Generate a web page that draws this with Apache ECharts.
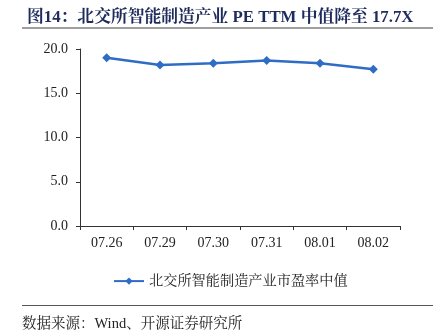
<!DOCTYPE html>
<html>
<head>
<meta charset="utf-8">
<script src="https://cdn.jsdelivr.net/npm/echarts@6/dist/echarts.min.js"></script>
<style>
  html, body { margin: 0; padding: 0; background: #fff; }
  #chart { width: 445px; height: 334px; }
</style>
</head>
<body>
<div id="chart"></div>
<script>
// Trading dates and the median PE TTM of the BSE smart-manufacturing sector
const dates = ['07.26', '07.29', '07.30', '07.31', '08.01', '08.02'];
const peMedian = [19.0, 18.2, 18.4, 18.7, 18.4, 17.7];
const seriesName = '北交所智能制造产业市盈率中值';
const titleText = '图14：北交所智能制造产业 PE TTM 中值降至 17.7X';
const sourceText = '数据来源：Wind、开源证券研究所';

const serif = '"Liberation Serif", "Times New Roman", "Noto Serif CJK SC", "Noto Sans CJK SC", serif';
const lineColor = '#2F6DC4';

const chart = echarts.init(document.getElementById('chart'), null, { renderer: 'canvas' });

chart.setOption({
  animation: false,
  backgroundColor: '#ffffff',
  title: {
    text: titleText,
    left: 22,
    top: 4,
    textStyle: {
      fontFamily: serif,
      fontSize: 16.8,
      fontWeight: 'bold',
      color: '#1E2B5C'
    }
  },
  graphic: [
    { type: 'line', shape: { x1: 22, y1: 28, x2: 433, y2: 28 }, style: { stroke: '#7f7f7f', lineWidth: 1.5 } },
    { type: 'line', shape: { x1: 22, y1: 305.5, x2: 433, y2: 305.5 }, style: { stroke: '#555555', lineWidth: 1 } },
    {
      type: 'text', left: 22, top: 317,
      style: { text: sourceText, font: '14.5px ' + serif, fill: '#222222' }
    }
  ],
  legend: {
    data: [seriesName],
    left: 108,
    top: 269,
    itemWidth: 30,
    itemHeight: 9,
    itemGap: 5,
    textStyle: { fontFamily: serif, fontSize: 14.2, color: '#222222' }
  },
  grid: { left: 80, right: 45, top: 49, bottom: 108 },
  xAxis: {
    type: 'category',
    data: dates,
    boundaryGap: true,
    axisLine: { lineStyle: { color: '#333333', width: 1 } },
    axisTick: { show: true, length: 4, inside: false, alignWithLabel: false, lineStyle: { color: '#333333' } },
    axisLabel: { fontFamily: serif, fontSize: 14, color: '#222222', margin: 10 }
  },
  yAxis: {
    type: 'value',
    min: 0,
    max: 20,
    interval: 5,
    splitLine: { show: false },
    axisLine: { show: true, lineStyle: { color: '#333333', width: 1 } },
    axisTick: { show: true, length: 4, lineStyle: { color: '#333333' } },
    axisLabel: {
      fontFamily: serif, fontSize: 14, color: '#222222', margin: 12,
      formatter: v => v.toFixed(1)
    }
  },
  series: [{
    name: seriesName,
    type: 'line',
    data: peMedian,
    symbol: 'diamond',
    symbolSize: 9,
    lineStyle: { color: lineColor, width: 2.5 },
    itemStyle: { color: lineColor }
  }]
});
</script>
</body>
</html>
